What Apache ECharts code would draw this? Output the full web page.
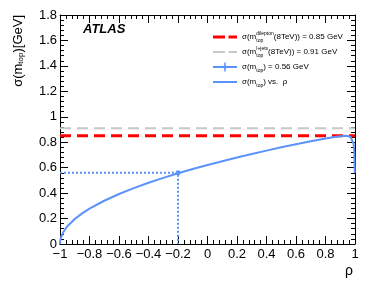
<!DOCTYPE html>
<html>
<head>
<meta charset="utf-8">
<script src="https://cdn.jsdelivr.net/npm/echarts@6/dist/echarts.min.js"></script>
<style>
html,body{margin:0;padding:0;background:#fff;}
#chart{width:374px;height:292px;}
</style>
</head>
<body>
<div id="chart"></div>
<script>
// correlation values along x and combined uncertainty (GeV)
var rho = [-1, -0.999, -0.995, -0.99, -0.98, -0.96, -0.94, -0.9, -0.85, -0.8, -0.7, -0.6, -0.5, -0.4, -0.3, -0.2, -0.1, 0, 0.1, 0.2, 0.3, 0.4, 0.5, 0.6, 0.7, 0.8, 0.85, 0.9, 0.93, 0.95, 0.97, 0.98, 0.99, 0.995, 0.998, 0.9984];
var sigma = [0, 0.020, 0.044, 0.062, 0.088, 0.124, 0.152, 0.197, 0.241, 0.278, 0.340, 0.393, 0.439, 0.481, 0.520, 0.556, 0.589, 0.621, 0.651, 0.680, 0.708, 0.734, 0.760, 0.784, 0.808, 0.830, 0.839, 0.847, 0.850, 0.849, 0.841, 0.828, 0.790, 0.726, 0.598, 0.560];
var xRange = [-1, 1];
var dileptonSigma = 0.85;
var ljetsSigma = 0.91;
var chosenRho = -0.2;
var chosenSigma = 0.56;
var seriesNames = ['dilepton', 'ljets', 'point', 'curve'];
var legendLabels = {
  dilepton: 'σ(m{subs|top}{sup|dilepton}(8TeV)) = 0.85 GeV',
  ljets: 'σ(m{subs|top}{sup|l+jets}(8TeV)) = 0.91 GeV',
  point: 'σ(m{sub|top}) = 0.56 GeV',
  curve: 'σ(m{sub|top}) vs.  ρ'
};

var blue = '#5b93fb';
var red = '#ff0000';
var grey = '#c8c8c8';
var curveData = rho.map(function (r, i) { return [r, sigma[i]]; });

function fmt(v) {
  var s = (Math.round(v * 10) / 10).toString();
  return s.replace('-', '\u2212');
}

var BOX = 'M0,0L24,0Z M0,10L24,10Z ';
var icons = {
  dilepton: 'path://' + BOX + 'M0,3.5h12v3h-12z M15.5,3.5h8.5v3h-8.5z',
  ljets: 'path://' + BOX + 'M0,4h12v2h-12z M15.5,4h8.5v2h-8.5z',
  point: 'path://' + BOX + 'M0,4h24v2h-24z M11.25,0.5h1.5v9h-1.5z M12,2.5L14.5,5L12,7.5L9.5,5z',
  curve: 'path://' + BOX + 'M0,4h24v2h-24z'
};
var iconColors = {dilepton: red, ljets: grey, point: blue, curve: blue};

var chart = echarts.init(document.getElementById('chart'), null, {renderer: 'canvas'});
var tickFont = {fontFamily: 'Liberation Sans, Arial, sans-serif', fontSize: 13, color: '#000'};

function axisCommon(extra) {
  return Object.assign({
    type: 'value',
    axisLine: {onZero: false, lineStyle: {color: '#000', width: 1}},
    axisTick: {inside: true, length: 8, lineStyle: {color: '#000'}},
    minorTick: {show: true, splitNumber: 5, length: 4, lineStyle: {color: '#000'}},
    splitLine: {show: false}
  }, extra);
}

chart.setOption({
  animation: false,
  backgroundColor: '#fff',
  grid: {left: 60, right: 19, top: 15, bottom: 48},
  xAxis: [
    axisCommon({min: xRange[0], max: xRange[1], interval: 0.2, position: 'bottom',
      axisLabel: Object.assign({margin: 4, formatter: fmt}, tickFont)}),
    axisCommon({min: xRange[0], max: xRange[1], interval: 0.2, position: 'top', axisLabel: {show: false}})
  ],
  yAxis: [
    axisCommon({min: 0, max: 1.8, interval: 0.2, position: 'left',
      axisLabel: Object.assign({margin: 3, formatter: fmt}, tickFont)}),
    axisCommon({min: 0, max: 1.8, interval: 0.2, position: 'right', axisLabel: {show: false}})
  ],
  legend: {
    orient: 'vertical', left: 208, top: 26, itemWidth: 24, itemHeight: 10, itemGap: 3,
    symbolKeepAspect: false,
    data: seriesNames.map(function (n) {
      return {name: n, icon: icons[n], itemStyle: {color: iconColors[n]}};
    }),
    formatter: function (n) { return legendLabels[n]; },
    textStyle: {
      fontFamily: 'Liberation Sans, Arial, sans-serif', fontSize: 8, color: '#000', lineHeight: 12,
      rich: {
        sub: {fontSize: 5, verticalAlign: 'bottom', lineHeight: 12, padding: [4, 0, 0, 0]},
        subs: {fontSize: 5, verticalAlign: 'bottom', lineHeight: 12, padding: [4, 0, 0, 0], width: 0},
        sup: {fontSize: 5, verticalAlign: 'top', lineHeight: 12, padding: [0, 0, 4, 0]}
      }
    }
  },
  series: [{
    name: 'dilepton', type: 'line', symbol: 'none', silent: true,
    data: [[xRange[0], dileptonSigma], [xRange[1], dileptonSigma]],
    lineStyle: {color: red, width: 3, type: [11, 6]}, itemStyle: {color: red}, z: 3
  }, {
    name: 'ljets', type: 'line', symbol: 'none', silent: true,
    data: [[xRange[0], ljetsSigma], [xRange[1], ljetsSigma]],
    lineStyle: {color: grey, width: 2, type: [11, 6]}, itemStyle: {color: grey}, z: 2
  }, {
    name: 'guide', type: 'line', symbol: 'none', silent: true,
    data: [[xRange[0], chosenSigma], [chosenRho, chosenSigma], [chosenRho, 0]],
    lineStyle: {color: blue, width: 2, type: [2, 2]}, z: 4
  }, {
    name: 'point', type: 'line', symbol: 'circle', symbolSize: 5, silent: true,
    data: [[chosenRho, chosenSigma]],
    lineStyle: {color: blue, width: 2}, itemStyle: {color: blue}, z: 6
  }, {
    name: 'curve', type: 'line', symbol: 'none', smooth: false, silent: true,
    data: curveData,
    lineStyle: {color: blue, width: 2}, itemStyle: {color: blue}, z: 5
  }],
  graphic: [{
    type: 'text', left: 83, top: 23,
    style: {text: 'ATLAS', font: 'italic bold 13px "Liberation Sans", Arial, sans-serif', fill: '#000'}
  }, {
    type: 'text', x: 18, y: 15, rotation: Math.PI / 2,
    style: {
      text: 'σ(m{sub|top})[GeV]', align: 'right', verticalAlign: 'middle',
      font: '13px "Liberation Sans", Arial, sans-serif', fill: '#000',
      rich: {sub: {fontSize: 8, verticalAlign: 'bottom', padding: [6, 0, 0, 0], fontFamily: 'Liberation Sans'}}
    }
  }, {
    type: 'text', x: 345, y: 264,
    style: {text: 'ρ', font: '14px "Liberation Sans", Arial, sans-serif', fill: '#000'}
  }]
});
</script>
</body>
</html>
